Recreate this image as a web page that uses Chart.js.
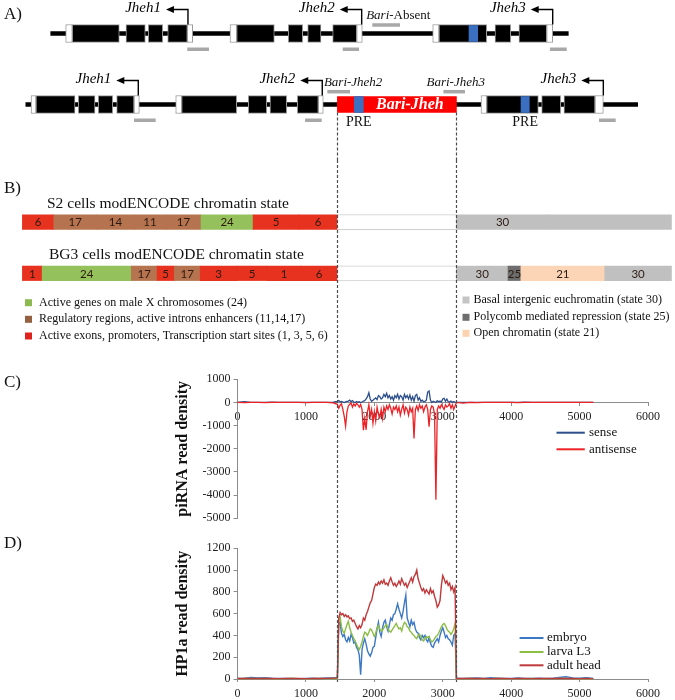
<!DOCTYPE html>
<html>
<head>
<meta charset="utf-8">
<script src="https://cdn.jsdelivr.net/npm/chart.js@4.4.1/dist/chart.umd.min.js"></script>
<style>
  html, body { margin: 0; padding: 0; background: #fff; }
  #fig { position: relative; width: 675px; height: 700px; overflow: hidden; background: #fff; }
  #fig canvas { position: absolute; left: 0; }
</style>
</head>
<body>
<div id="fig">
  <canvas id="panelA" width="675" height="160" style="top:0px"></canvas>
  <canvas id="panelB" width="675" height="190" style="top:160px"></canvas>
  <canvas id="panelC" width="675" height="180" style="top:350px"></canvas>
  <canvas id="panelD" width="675" height="170" style="top:530px"></canvas>
</div>
<script>
// ---- data (positions in bp, relative to the same axis used in C and D) ----
const bariJheh = [1460, 3200];

// A) gene models
const rowsA = ["Bari-absent", "Bari-Jheh"];
const backboneA = [[-2730, 4835], [-3094, 5849]];
const exonsAbsent = [[-2415, -1728], [-1630, -1348], [-1304, -1093], [-1020, -734],
                     [-12, 538], [742, 953], [1026, 1220], [1391, 1742],
                     [2945, 3642], [3764, 3993], [4114, 4519]];
const utrsAbsent = [[-2511, -2415], [-734, -655], [-110, -12], [1742, 1824], [2853, 2945], [4519, 4607]];
const exonsPresent = [[-2945, -2375], [-2327, -2083], [-2035, -1824], [-1766, -1513],
                      [-816, -12], [158, 427], [475, 719], [874, 1181],
                      [3642, 4397], [4446, 4724], [4772, 5225]];
const utrsPresent = [[-3018, -2945], [-1513, -1435], [-903, -816], [1181, 1254], [3559, 3642], [5225, 5347]];
const preAbsent = [[3384, 3511]];
const prePresent = [[1707, 1839], [4144, 4265]];
const geneNames = ["Jheh1", "Jheh2", "Jheh3"];
const tssAbsent = [-724, 1815, 4607];
const tssPresent = [-1450, 1239, 5347];
const geneProbesAbsent = [[-734, -417], [1538, 1776], [4567, 4812]];
const geneProbesPresent = [[-1513, -1196], [987, 1231], [5284, 5528]];
const bariProbesAbsent = [[1970, 2375]];
const bariProbesPresent = [[1313, 1644], [3010, 3325]];
const bariProbeLabelsAbsent = ["Bari-Absent"];
const bariProbeLabelsPresent = ["Bari-Jheh2", "Bari-Jheh3"];
const bariLabelAtAbsent = [2350];
const bariLabelAtPresent = [1690, 3190];

// B) modENCODE chromatin states
const rowsB = ["S2 cells modENCODE chromatin state", "BG3 cells modENCODE chromatin state"];
const s2Segments = [[-3144, -2685], [-2685, -2057], [-2057, -1513], [-1513, -1045], [-1045, -533],
                    [-533, 228], [228, 899], [899, 1454], [3198, 4550], [4550, 6343]];
const s2States = [6, 17, 14, 11, 17, 24, 5, 6, 30, 30];
const s2Labels = ["6", "17", "14", "11", "17", "24", "5", "6", "30", ""];
const bg3Segments = [[-3144, -2855], [-2855, -1552], [-1552, -1175], [-1175, -924], [-924, -545],
                     [-545, -7], [-7, 431], [431, 928], [928, 1454],
                     [3198, 3954], [3954, 4142], [4142, 5368], [5368, 6343]];
const bg3States = [1, 24, 17, 5, 17, 3, 5, 1, 6, 30, 25, 21, 30];
const unmappedGap = [1454, 3198];
const legendLeftText = ["Active genes on male X chromosomes (24)",
                        "Regulatory regions, active introns enhancers (11,14,17)",
                        "Active exons, promoters, Transcription start sites (1, 3, 5, 6)"];
const legendLeftColors = ["#8dba50", "#94603f", "#e0221c"];
const legendRightText = ["Basal intergenic euchromatin (state 30)",
                         "Polycomb mediated repression (state 25)",
                         "Open chromatin (state 21)"];
const legendRightColors = ["#c4c4c4", "#6e6e6e", "#fcd3b1"];

// C) piRNA read density
const piLeftPos = [0, 100, 200, 300, 400, 500, 600, 700, 800, 900, 1000, 1100, 1200, 1300, 1400];
const piRightPos = [3300, 3400, 3500, 3600, 3700, 3800, 3900, 4000, 4100, 4200,
                    4300, 4400, 4500, 4600, 4700, 4800, 4900, 5000, 5100, 5200];
const piElementStart = 1460, piElementStep = 20;
const senseLeft = [0, 30, 5, 0, 0, 10, 0, 0, 0, 5, 0, 0, 0, 0, 10];
const senseElement = [
  50, 80, 30, 40, 20, 0, 30, 50, 60, 100,
  30, 80, 20, 0, 40, 10, 30, 0, 20, 60,
  80, 150, 250, 420, 150, 50, 100, 150, 200, 120,
  300, 250, 150, 200, 350, 250, 400, 200, 300, 150,
  250, 100, 300, 200, 350, 150, 300, 250, 100, 350,
  200, 300, 150, 320, 100, 250, 50, 300, 350, 100,
  200, 50, 100, 30, 50, 100, 450, 500, 100, 0,
  50, 30, 0, 80, 30, 60, 20, 150, 180, 50,
  150, 30, 20, 60, 10, 30, 10, 0];
const senseRight = [5, 0, 0, 0, 0, 0, 0, 0, 0, 10, 0, 0, 0, 0, 0, 0, 0, 0, 0, 0];
const antisenseLeft = [0, -10, 0, 0, -5, 0, 0, 0, 0, 0, -5, 0, 0, 0, -20];
const antisenseElement = [
  -80, -250, -120, -60, -300, -600, -1020, -400, -150, -80,
  -30, -200, -60, -150, -40, -100, -200, -90, -300, -1200,
  -700, -1180, -400, -100, -600, -300, -900, -400, -800, -200,
  -500, -650, -300, -700, -200, -400, -150, -300, -100, -250,
  -500, -200, -300, -150, -400, -200, -550, -300, -100, -450,
  -200, -300, -550, -200, -400, -250, -1550, -300, -150, -350,
  -100, -250, -150, -400, -200, -100, -300, -1050, -300, -150,
  -200, -500, -4200, -300, -150, -250, -100, -200, -300, -100,
  -200, -150, -50, -250, -100, -300, -150, 0];
const antisenseRight = [-30, 0, -10, 0, 0, 0, 0, 0, -10, 0, 0, 0, 0, 0, 0, 0, 0, 0, 0, 0];
const piYTicks = [-5000, 1000, 1000];

// D) HP1a read density
const hpLeftPos = [0, 100, 200, 300, 400, 500, 600, 700, 800, 900, 1000, 1100, 1200, 1300, 1400];
const hpRightPos = [3200, 3300, 3400, 3500, 3600, 3700, 3800, 3900, 4000, 4100, 4200,
                    4300, 4400, 4500, 4600, 4700, 4800, 4900, 5000, 5100, 5200];
const hpElementStart = 1460, hpElementStep = 20;
const embryoLeft = [5, 8, 14, 10, 12, 8, 6, 4, 5, 3, 6, 8, 5, 10, 12];
const embryoElement = [
  15, 500, 520, 420, 390, 410, 360, 340, 380, 350,
  410, 380, 330, 340, 290, 270, 220, 40, 270, 330,
  370, 320, 260, 230, 210, 240, 290, 300, 380, 460,
  520, 430, 390, 470, 520, 540, 480, 440, 500, 560,
  540, 590, 600, 640, 690, 640, 600, 560, 620, 700,
  770, 560, 520, 480, 540, 500, 520, 460, 430, 420,
  380, 360, 400, 380, 400, 360, 340, 380, 330, 300,
  290, 330, 350, 370, 340, 400, 440, 470, 430, 380,
  400, 370, 360, 340, 310, 400, 420];
const embryoRight = [6, 4, 8, 10, 6, 12, 8, 5, 6, 10, 4, 6, 8, 5, 4, 14, 20, 10, 8, 12, 5];
const larvaLeft = [3, 4, 5, 3, 4, 3, 2, 3, 4, 3, 2, 3, 4, 3, 5];
const larvaElement = [
  5, 540, 570, 480, 440, 420, 460, 500, 530, 470,
  430, 400, 370, 350, 320, 290, 270, 300, 340, 390,
  430, 420, 400, 430, 460, 450, 420, 390, 420, 470,
  490, 460, 440, 450, 470, 490, 500, 460, 440, 430,
  450, 470, 490, 510, 480, 460, 470, 440, 490, 520,
  510, 480, 470, 440, 430, 410, 400, 380, 370, 400,
  410, 390, 360, 350, 370, 390, 380, 390, 360, 340,
  350, 370, 390, 400, 420, 450, 480, 500, 510, 490,
  460, 440, 430, 410, 430, 460, 510];
const larvaRight = [3, 2, 4, 3, 2, 3, 4, 2, 3, 3, 2, 4, 3, 2, 3, 4, 5, 3, 2, 3, 2];
const adultLeft = [4, 6, 5, 4, 6, 5, 3, 4, 5, 4, 3, 5, 4, 6, 8];
const adultElement = [
  10, 560, 610, 590, 600, 575, 590, 570, 580, 555,
  560, 530, 540, 510, 480, 460, 490, 470, 500, 560,
  540, 590, 620, 660, 700, 720, 780, 840, 870, 860,
  890, 870, 900, 880, 910, 870, 880, 860, 900, 930,
  890, 860, 880, 850, 870, 900, 870, 920, 890, 860,
  880, 840, 870, 900, 930, 890, 940, 960, 1000, 920,
  880, 840, 810, 830, 790, 820, 800, 780, 830, 790,
  810, 760, 720, 660, 680, 720, 860, 950, 920, 880,
  900, 860, 880, 820, 850, 800, 840];
const adultRight = [5, 4, 6, 5, 4, 3, 5, 4, 3, 5, 4, 3, 5, 4, 6, 5, 4, 5, 3, 4, 3];

// ---- styling ----
const SERIF = '"Liberation Serif", "Times New Roman", serif';
const SANS = 'Lato, "Liberation Sans", sans-serif';
const stateColors = { 1: "#e6321f", 3: "#e6321f", 5: "#e6321f", 6: "#e6321f",
                      11: "#b6734f", 14: "#b6734f", 17: "#b6734f", 24: "#95c15d",
                      30: "#c0c0c0", 25: "#6d6d6d", 21: "#fbd5b5" };
const PLOT_LEFT = 237.5, PLOT_RIGHT_PAD = 27;

Chart.defaults.font.family = SERIF;
Chart.defaults.animation = false;

function segs(list, row) {
  return list.map(([a, b]) => ({ x: [a, b], y: row }));
}
function stepPositions(start, step, count) {
  const out = [];
  for (let i = 0; i < count; i++) out.push(start + i * step);
  return out;
}
function toPoints(pos, vals) {
  return pos.map((x, i) => ({ x, y: vals[i] }));
}
function drawBounds(chart, y0, y1) {
  const { ctx } = chart;
  const xs = chart.scales.x;
  ctx.save();
  ctx.strokeStyle = "#4d4d4d";
  ctx.lineWidth = 1.2;
  ctx.setLineDash([3, 2]);
  bariJheh.forEach((v) => {
    const p = Math.round(xs.getPixelForValue(v)) + 0.5;
    ctx.beginPath();
    ctx.moveTo(p, y0);
    ctx.lineTo(p, y1);
    ctx.stroke();
  });
  ctx.restore();
}
function panelLetter(ctx, text, x, y) {
  ctx.save();
  ctx.font = `17px ${SERIF}`;
  ctx.fillStyle = "#111";
  ctx.textAlign = "left";
  ctx.textBaseline = "middle";
  ctx.fillText(text, x, y);
  ctx.restore();
}
function drawLineLegend(chart, x0, x1, tx, ys) {
  const { ctx } = chart;
  ctx.save();
  chart.data.datasets.forEach((ds, i) => {
    ctx.strokeStyle = ds.borderColor;
    ctx.lineWidth = 2;
    ctx.beginPath();
    ctx.moveTo(x0, ys[i]);
    ctx.lineTo(x1, ys[i]);
    ctx.stroke();
    ctx.fillStyle = "#111";
    ctx.font = `13px ${SERIF}`;
    ctx.textAlign = "left";
    ctx.textBaseline = "middle";
    ctx.fillText(ds.label, tx, ys[i]);
  });
  ctx.restore();
}

// ---- A) gene models ----
new Chart(document.getElementById("panelA"), {
  type: "bar",
  data: {
    labels: rowsA,
    datasets: [
      { label: "backbone", data: [{ x: backboneA[0], y: rowsA[0] }, { x: backboneA[1], y: rowsA[1] }],
        backgroundColor: "#000", barThickness: 4, order: 5, clip: false },
      { label: "UTR", data: [...segs(utrsAbsent, rowsA[0]), ...segs(utrsPresent, rowsA[1])],
        backgroundColor: "#fff", borderColor: "#9a9a9a", borderWidth: 1, borderSkipped: false,
        barThickness: 18, order: 4, clip: false },
      { label: "exon", data: [...segs(exonsAbsent, rowsA[0]), ...segs(exonsPresent, rowsA[1])],
        backgroundColor: "#000", borderColor: "#9a9a9a", borderWidth: 1, borderSkipped: false,
        barThickness: 18, order: 3, clip: false },
      { label: "Bari-Jheh", data: [{ x: bariJheh, y: rowsA[1] }],
        backgroundColor: "#ff0000", barThickness: 16, order: 2, clip: false },
      { label: "PRE", data: [...segs(preAbsent, rowsA[0]), ...segs(prePresent, rowsA[1])],
        backgroundColor: "#3b6fc1", barThickness: 16, order: 1, clip: false }
    ]
  },
  options: {
    indexAxis: "y",
    responsive: false,
    animation: false,
    datasets: { bar: { grouped: false } },
    layout: { padding: { left: PLOT_LEFT, right: PLOT_RIGHT_PAD, top: 33.5, bottom: 55.5 } },
    plugins: { legend: { display: false }, tooltip: { enabled: false } },
    scales: {
      x: { type: "linear", min: 0, max: 6000, display: false },
      y: { type: "category", offset: false, display: false }
    }
  },
  plugins: [{
    id: "geneModels",
    afterDatasetsDraw(chart) {
      const { ctx } = chart;
      const xs = chart.scales.x, ys = chart.scales.y;
      const px = (v) => xs.getPixelForValue(v);
      const rowY = [ys.getPixelForValue(0), ys.getPixelForValue(1)];
      const tss = [tssAbsent, tssPresent];
      const geneProbes = [geneProbesAbsent, geneProbesPresent];
      const bariProbes = [bariProbesAbsent, bariProbesPresent];
      const bariLabels = [bariProbeLabelsAbsent, bariProbeLabelsPresent];
      const bariLabelAt = [bariLabelAtAbsent, bariLabelAtPresent];
      const bariOffset = [-8.5, -12.8];

      ctx.save();
      // probes
      ctx.fillStyle = "#a8a8a8";
      [0, 1].forEach((r) => {
        geneProbes[r].forEach(([a, b]) => ctx.fillRect(px(a), rowY[r] + 14, px(b) - px(a), 3.5));
        bariProbes[r].forEach(([a, b]) => ctx.fillRect(px(a), rowY[r] + bariOffset[r] - 1.75, px(b) - px(a), 3.5));
      });
      // TSS arrows and gene names
      [0, 1].forEach((r) => {
        tss[r].forEach((t, g) => {
          const x = px(t);
          const top = rowY[r] - 9;
          const ay = rowY[r] - 24;
          const tip = x - 22;
          ctx.strokeStyle = "#000";
          ctx.lineWidth = 1.4;
          ctx.beginPath();
          ctx.moveTo(x, top);
          ctx.lineTo(x, ay);
          ctx.lineTo(tip + 6, ay);
          ctx.stroke();
          ctx.fillStyle = "#000";
          ctx.beginPath();
          ctx.moveTo(tip, ay);
          ctx.lineTo(tip + 8, ay - 3.5);
          ctx.lineTo(tip + 8, ay + 3.5);
          ctx.closePath();
          ctx.fill();
          ctx.font = `italic 15px ${SERIF}`;
          ctx.textAlign = "right";
          ctx.textBaseline = "middle";
          ctx.fillText(geneNames[g], tip - 5, ay - 1);
        });
      });
      // Bari probe labels
      [0, 1].forEach((r) => {
        bariLabels[r].forEach((label, i) => {
          const y = rowY[r] + bariOffset[r] - 9.5;
          const parts = label.endsWith("-Absent") ? [["Bari", true], ["-Absent", false]] : [[label, true]];
          ctx.textBaseline = "middle";
          ctx.textAlign = "left";
          let total = 0;
          parts.forEach(([t, it]) => { ctx.font = `${it ? "italic " : ""}13px ${SERIF}`; total += ctx.measureText(t).width; });
          let x = px(bariLabelAt[r][i]) - total / 2;
          ctx.fillStyle = "#111";
          parts.forEach(([t, it]) => {
            ctx.font = `${it ? "italic " : ""}13px ${SERIF}`;
            ctx.fillText(t, x, y);
            x += ctx.measureText(t).width;
          });
        });
      });
      // element name and PRE labels
      ctx.fillStyle = "#fff";
      ctx.font = `italic bold 16px ${SERIF}`;
      ctx.textAlign = "center";
      ctx.textBaseline = "middle";
      ctx.fillText("Bari-Jheh", px((prePresent[0][1] + bariJheh[1]) / 2), rowY[1] + 0.5);
      ctx.fillStyle = "#111";
      ctx.font = `14px ${SERIF}`;
      prePresent.forEach(([a, b]) => ctx.fillText("PRE", px((a + b) / 2), rowY[1] + 17.5));
      ctx.restore();

      drawBounds(chart, rowY[1] + 8, chart.height);
      panelLetter(ctx, "A)", 4, 15);
    }
  }]
});

// ---- B) chromatin states ----
new Chart(document.getElementById("panelB"), {
  type: "bar",
  data: {
    labels: rowsB,
    datasets: [
      { label: "S2", data: segs(s2Segments, rowsB[0]), backgroundColor: s2States.map((s) => stateColors[s]),
        barThickness: 14.5, order: 1, clip: false },
      { label: "BG3", data: segs(bg3Segments, rowsB[1]), backgroundColor: bg3States.map((s) => stateColors[s]),
        barThickness: 14.5, order: 1, clip: false },
      { label: "not mapped", data: [{ x: unmappedGap, y: rowsB[0] }, { x: unmappedGap, y: rowsB[1] }],
        backgroundColor: "#fff", borderColor: "#cfcfcf", borderWidth: { top: 1, bottom: 1, left: 0, right: 0 },
        borderSkipped: false, barThickness: 15, order: 2, clip: false }
    ]
  },
  options: {
    indexAxis: "y",
    responsive: false,
    animation: false,
    datasets: { bar: { grouped: false } },
    layout: { padding: { left: PLOT_LEFT, right: PLOT_RIGHT_PAD, top: 62.2, bottom: 76.7 } },
    plugins: { legend: { display: false }, tooltip: { enabled: false } },
    scales: {
      x: { type: "linear", min: 0, max: 6000, display: false },
      y: { type: "category", offset: false, display: false }
    }
  },
  plugins: [{
    id: "chromatinStates",
    afterDatasetsDraw(chart) {
      const { ctx } = chart;
      const xs = chart.scales.x, ys = chart.scales.y;
      const px = (v) => xs.getPixelForValue(v);
      const rowY = [ys.getPixelForValue(0), ys.getPixelForValue(1)];
      ctx.save();
      // segment numbers
      ctx.font = `11.5px ${SANS}`;
      ctx.fillStyle = "#2b1a12";
      ctx.textAlign = "center";
      ctx.textBaseline = "middle";
      s2Segments.forEach(([a, b], i) => ctx.fillText(s2Labels[i], px((a + b) / 2), rowY[0] + 0.5));
      bg3Segments.forEach(([a, b], i) => ctx.fillText(String(bg3States[i]), px((a + b) / 2), rowY[1] + 0.5));
      // row titles
      ctx.font = `15.5px ${SERIF}`;
      ctx.fillStyle = "#111";
      ctx.textAlign = "left";
      ctx.fillText(rowsB[0], 47, rowY[0] - 18);
      ctx.fillText(rowsB[1], 49, rowY[1] - 18);
      // legends
      ctx.font = `12px ${SERIF}`;
      legendLeftText.forEach((t, i) => {
        const y = [142.7, 159.3, 176][i];
        ctx.fillStyle = legendLeftColors[i];
        ctx.fillRect(25, y - 3.5, 7, 7);
        ctx.fillStyle = "#111";
        ctx.fillText(t, 39, y);
      });
      legendRightText.forEach((t, i) => {
        const y = [140, 157.3, 173.3][i];
        ctx.fillStyle = legendRightColors[i];
        ctx.fillRect(462.5, y - 3.5, 7, 7);
        ctx.fillStyle = "#111";
        ctx.fillText(t, 473.5, y);
      });
      ctx.restore();
      drawBounds(chart, 0, chart.height);
      panelLetter(ctx, "B)", 4, 28.5);
    }
  }]
});

// ---- C) piRNA ----
const piPos = [...piLeftPos, ...stepPositions(piElementStart, piElementStep, senseElement.length), ...piRightPos];
new Chart(document.getElementById("panelC"), {
  type: "line",
  data: {
    datasets: [
      { label: "sense", data: toPoints(piPos, [...senseLeft, ...senseElement, ...senseRight]),
        borderColor: "#2c4f8c", borderWidth: 1.3, pointRadius: 0, order: 2, clip: false },
      { label: "antisense", data: toPoints(piPos, [...antisenseLeft, ...antisenseElement, ...antisenseRight]),
        borderColor: "#ec2227", borderWidth: 1.3, pointRadius: 0, order: 1, clip: false }
    ]
  },
  options: {
    responsive: false,
    animation: false,
    layout: { padding: { left: 173, right: PLOT_RIGHT_PAD, top: 29.3, bottom: 11.7 } },
    plugins: { legend: { display: false }, tooltip: { enabled: false } },
    scales: {
      x: {
        type: "linear", min: 0, max: 6000, position: { y: 0 },
        ticks: { stepSize: 1000, autoSkip: false, maxRotation: 0, padding: 4, color: "#222",
                 font: { family: SERIF, size: 12 }, callback: (v) => String(v) },
        grid: { drawOnChartArea: false, tickLength: 3, color: "#8c8c8c" },
        border: { color: "#8c8c8c" }
      },
      y: {
        min: piYTicks[0], max: piYTicks[1],
        ticks: { stepSize: piYTicks[2], padding: 3, color: "#222", font: { family: SERIF, size: 12 },
                 callback: (v) => String(v) },
        grid: { drawOnChartArea: false, tickLength: 4, color: "#8c8c8c" },
        border: { color: "#8c8c8c" },
        title: { display: true, text: "piRNA read density", color: "#111", padding: 0,
                 font: { family: SERIF, size: 16, weight: "bold" } },
        afterFit(scale) { scale.width = 64.5; }
      }
    }
  },
  plugins: [{
    id: "piExtras",
    afterDraw(chart) {
      drawLineLegend(chart, 556.5, 584.8, 589, [82.7, 99.3]);
      drawBounds(chart, 0, chart.height);
      panelLetter(chart.ctx, "C)", 4, 33);
    }
  }]
});

// ---- D) HP1a ----
const hpPos = [...hpLeftPos, ...stepPositions(hpElementStart, hpElementStep, embryoElement.length), ...hpRightPos];
new Chart(document.getElementById("panelD"), {
  type: "line",
  data: {
    datasets: [
      { label: "embryo", data: toPoints(hpPos, [...embryoLeft, ...embryoElement, ...embryoRight]),
        borderColor: "#3c78c3", borderWidth: 1.4, pointRadius: 0, order: 3, clip: false },
      { label: "larva L3", data: toPoints(hpPos, [...larvaLeft, ...larvaElement, ...larvaRight]),
        borderColor: "#8cbd45", borderWidth: 1.4, pointRadius: 0, order: 2, clip: false },
      { label: "adult head", data: toPoints(hpPos, [...adultLeft, ...adultElement, ...adultRight]),
        borderColor: "#c0393b", borderWidth: 1.4, pointRadius: 0, order: 1, clip: false }
    ]
  },
  options: {
    responsive: false,
    animation: false,
    layout: { padding: { left: 173, right: PLOT_RIGHT_PAD, top: 18.3, bottom: 0 } },
    plugins: { legend: { display: false }, tooltip: { enabled: false } },
    scales: {
      x: {
        type: "linear", min: 0, max: 6000,
        ticks: { stepSize: 1000, autoSkip: false, maxRotation: 0, padding: 5, color: "#222",
                 font: { family: SERIF, size: 12 }, callback: (v) => String(v) },
        grid: { drawOnChartArea: false, tickLength: 3, color: "#8c8c8c" },
        border: { color: "#8c8c8c" },
        afterFit(scale) { scale.height = 21; }
      },
      y: {
        min: 0, max: 1200,
        ticks: { stepSize: 200, padding: 3, color: "#222", font: { family: SERIF, size: 12 },
                 callback: (v) => String(v) },
        grid: { drawOnChartArea: false, tickLength: 4, color: "#8c8c8c" },
        border: { color: "#8c8c8c" },
        title: { display: true, text: "HP1a read density", color: "#111", padding: 0,
                 font: { family: SERIF, size: 16, weight: "bold" } },
        afterFit(scale) { scale.width = 64.5; }
      }
    }
  },
  plugins: [{
    id: "hpExtras",
    afterDraw(chart) {
      drawLineLegend(chart, 519.6, 543.5, 547, [108, 122, 135.3]);
      drawBounds(chart, 0, 152);
      panelLetter(chart.ctx, "D)", 4, 14);
    }
  }]
});
</script>
</body>
</html>
